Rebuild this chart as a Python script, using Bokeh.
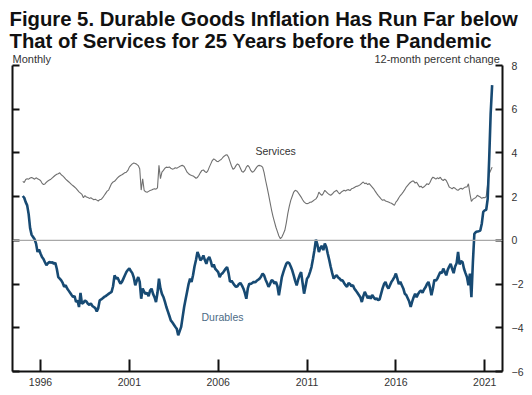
from bokeh.plotting import figure
from bokeh.models import Range1d, LinearAxis, FixedTicker, Span, Label, Title
from bokeh.embed import file_html
from bokeh.resources import INLINE

# ---- data (monthly, 12-month percent change), Jan 1995 .. Jun 2021 ----
start_year = 1995
services = [
    2.70, 2.65, 2.78, 2.82, 2.80, 2.85, 2.88, 2.84, 2.80, 2.86, 2.82, 2.78,  # 1995
    2.74, 2.62, 2.55, 2.58, 2.66, 2.72, 2.76, 2.80, 2.86, 2.92, 2.98, 3.02,  # 1996
    3.05, 3.09, 3.00, 2.95, 2.88, 2.80, 2.74, 2.68, 2.62, 2.55, 2.50, 2.44,  # 1997
    2.38, 2.30, 2.22, 2.16, 2.10, 1.95, 2.05, 1.98, 1.96, 1.92, 1.95, 1.90,  # 1998
    1.86, 1.88, 1.84, 1.80, 1.86, 1.88, 1.95, 2.05, 2.15, 2.25, 2.30, 2.45,  # 1999
    2.60, 2.67, 2.70, 2.78, 2.86, 2.92, 2.97, 3.00, 3.05, 3.10, 3.12, 3.20,  # 2000
    3.35, 3.43, 3.50, 3.54, 3.52, 3.48, 3.42, 3.28, 2.30, 2.82, 2.29, 2.22,  # 2001
    2.20, 2.24, 2.28, 2.30, 2.34, 2.36, 2.34, 2.40, 3.43, 2.82, 3.12, 3.20,  # 2002
    3.30, 3.35, 3.33, 3.36, 3.30, 3.26, 3.28, 3.32, 3.30, 3.34, 3.38, 3.42,  # 2003
    3.43, 3.38, 3.25, 3.12, 3.05, 3.00, 2.97, 2.95, 2.90, 2.84, 2.88, 2.98,  # 2004
    3.10, 3.20, 3.22, 3.15, 3.10, 3.18, 3.35, 3.50, 3.65, 3.73, 3.68, 3.62,  # 2005
    3.60, 3.66, 3.70, 3.78, 3.85, 3.90, 3.92, 3.80, 3.60, 3.40, 3.25, 3.30,  # 2006
    3.42, 3.50, 3.45, 3.30, 3.15, 3.12, 3.20, 3.35, 3.43, 3.35, 3.20, 3.12,  # 2007
    3.15, 3.25, 3.35, 3.42, 3.43, 3.40, 3.35, 3.10, 2.75, 2.44, 2.10, 1.75,  # 2008
    1.40, 1.10, 0.85, 0.60, 0.40, 0.20, 0.08, 0.15, 0.30, 0.46, 0.80, 1.22,  # 2009
    1.55, 1.83, 2.02, 2.21, 2.29, 2.26, 2.18, 2.08, 1.98, 1.86, 1.76, 1.70,  # 2010
    1.68, 1.70, 1.74, 1.75, 1.80, 1.85, 1.90, 2.00, 2.21, 2.12, 2.06, 2.15,  # 2011
    2.29, 2.22, 2.15, 2.10, 2.06, 2.12, 2.20, 2.25, 2.29, 2.20, 2.13, 2.20,  # 2012
    2.25, 2.29, 2.26, 2.30, 2.32, 2.28, 2.36, 2.38, 2.42, 2.46, 2.48, 2.51,  # 2013
    2.55, 2.62, 2.67, 2.59, 2.62, 2.55, 2.60, 2.52, 2.44, 2.36, 2.25, 2.15,  # 2014
    2.06, 1.98, 1.90, 1.83, 1.86, 1.80, 1.78, 1.75, 1.72, 1.70, 1.65, 1.60,  # 2015
    1.75, 1.83, 1.95, 2.05, 2.13, 2.22, 2.32, 2.44, 2.52, 2.60, 2.66, 2.71,  # 2016
    2.71, 2.62, 2.66, 2.55, 2.44, 2.48, 2.40, 2.45, 2.52, 2.59, 2.55, 2.65,  # 2017
    2.80, 2.89, 2.85, 2.80, 2.86, 2.82, 2.89, 2.78, 2.74, 2.80, 2.74, 2.60,  # 2018
    2.44, 2.40, 2.36, 2.42, 2.38, 2.32, 2.29, 2.35, 2.38, 2.34, 2.40, 2.44,  # 2019
    2.44, 2.59, 2.13, 1.78, 1.88, 1.92, 1.96, 2.06, 2.02, 1.98, 1.92, 1.96,  # 2020
    1.95, 2.00, 2.60, 3.05, 3.20, 3.35,                                      # 2021
]
durables = [
    2.03, 1.95, 1.75, 1.60, 1.20, 0.55, 0.25, 0.15, 0.05, -0.15, -0.53, -0.42,  # 1995
    -0.60, -0.76, -0.85, -1.00, -1.14, -1.05, -0.99, -1.02, -1.00, -1.07, -1.03, -1.30,  # 1996
    -1.68, -1.75, -1.83, -1.95, -2.13, -2.05, -2.20, -2.30, -2.40, -2.50, -2.59, -2.55,  # 1997
    -2.82, -2.75, -3.05, -2.40, -2.90, -2.85, -2.75, -2.80, -2.90, -2.95, -2.88, -3.00,  # 1998
    -3.05, -3.10, -3.25, -3.10, -2.74, -2.70, -2.65, -2.59, -2.55, -2.50, -2.45, -2.40,  # 1999
    -2.36, -2.10, -1.60, -1.75, -1.70, -1.85, -1.98, -1.90, -1.75, -1.60, -1.45, -1.35,  # 2000
    -1.29, -1.40, -1.50, -1.70, -2.06, -1.85, -1.68, -1.90, -2.67, -2.20, -2.35, -2.45,  # 2001
    -2.40, -2.55, -2.30, -2.21, -2.45, -2.60, -2.82, -2.40, -1.75, -2.20, -2.45, -2.59,  # 2002
    -2.80, -3.05, -3.25, -3.45, -3.66, -3.75, -3.85, -3.95, -4.04, -4.34, -4.15, -3.96,  # 2003
    -3.50, -3.05, -2.70, -2.35, -2.00, -1.75, -1.90, -1.60, -1.20, -0.90, -0.53, -0.70,  # 2004
    -0.91, -0.84, -0.69, -0.90, -1.07, -0.85, -0.76, -0.95, -1.22, -1.10, -1.30, -1.37,  # 2005
    -1.45, -1.68, -1.55, -1.50, -1.40, -1.30, -1.22, -1.50, -1.90, -1.85, -1.95, -2.05,  # 2006
    -2.13, -2.10, -2.00, -1.95, -2.06, -2.20, -2.40, -2.67, -2.20, -1.98, -2.00, -1.95,  # 2007
    -1.90, -1.92, -1.85, -1.80, -1.75, -1.65, -1.52, -1.60, -1.80, -1.95, -2.13, -2.00,  # 2008
    -1.83, -1.85, -1.98, -1.90, -2.10, -2.51, -2.10, -1.68, -1.45, -1.25, -1.07, -1.00,  # 2009
    -1.05, -1.20, -1.37, -1.60, -1.85, -2.06, -1.80, -1.60, -1.45, -1.95, -2.44, -2.10,  # 2010
    -1.75, -1.65, -1.45, -1.22, -0.85, -0.45, 0.03, -0.20, -0.53, -0.35, -0.25, -0.45,  # 2011
    -0.15, -0.30, -0.61, -0.90, -1.22, -1.50, -1.75, -1.65, -1.60, -1.70, -1.75, -1.83,  # 2012
    -1.83, -1.95, -2.05, -2.13, -1.95, -2.00, -2.10, -2.05, -2.21, -2.30, -2.40, -2.50,  # 2013
    -2.60, -2.82, -2.55, -2.36, -2.50, -2.65, -2.55, -2.67, -2.50, -2.60, -2.70, -2.65,  # 2014
    -2.74, -2.70, -2.45, -2.20, -2.00, -1.90, -2.10, -2.20, -2.05, -1.90, -1.80, -1.68,  # 2015
    -1.52, -1.75, -2.00, -1.90, -2.05, -2.20, -2.44, -2.50, -2.65, -2.80, -3.05, -2.80,  # 2016
    -2.60, -2.44, -2.60, -2.45, -2.35, -2.29, -2.40, -2.25, -2.15, -2.00, -1.90, -2.15,  # 2017
    -2.51, -2.20, -1.80, -1.85, -1.75, -1.60, -1.45, -1.50, -1.29, -1.45, -1.60, -1.35,  # 2018
    -1.20, -1.07, -1.30, -1.50, -1.20, -1.05, -0.53, -1.10, -0.95, -0.99, -1.30, -1.50,  # 2019
    -1.68, -2.06, -1.52, -2.60, -1.00, 0.30, 0.38, 0.40, 0.42, 0.45, 0.76, 1.30,  # 2020
    1.37, 1.40, 1.90, 3.70, 5.80, 7.10,  # 2021
]
x_ticks = [1996, 2001, 2006, 2011, 2016, 2021]
y_ticks = [-6, -4, -2, 0, 2, 4, 6, 8]

title_1 = "Figure 5. Durable Goods Inflation Has Run Far below"
title_2 = "That of Services for 25 Years before the Pandemic"

months_s = [start_year + i / 12 for i in range(len(services))]
months_d = [start_year + i / 12 for i in range(len(durables))]

FONT = "Liberation Sans"
X0, X1 = 1994.424, 2022.0
Y0, Y1 = -6, 8
PX_PER_UNIT = 306 / 14.0
BAND_PX = 13                      # small band above 8 for the unit notes
Y_TOP = Y1 + BAND_PX / PX_PER_UNIT

p = figure(frame_width=490, frame_height=306 + BAND_PX,
           x_range=Range1d(X0, X1), y_range=Range1d(Y0, Y_TOP),
           output_backend="svg", toolbar_location=None,
           min_border_left=12, min_border_right=0, min_border_top=52, min_border_bottom=0)
p.outline_line_color = None
p.grid.visible = False
p.background_fill_color = "white"
p.border_fill_color = "white"

# two-line heading, stacked above the frame (first added = nearest the frame)
p.add_layout(Title(text=title_2, align="left", offset=-3, standoff=1,
                   text_font=FONT, text_font_style="bold", text_font_size="20.3px",
                   text_color="#111111"), "above")
p.add_layout(Title(text=title_1, align="left", offset=-3, standoff=-4,
                   text_font=FONT, text_font_style="bold", text_font_size="20.3px",
                   text_color="#111111"), "above")

def style_axis(ax):
    ax.major_tick_out = 0
    ax.minor_tick_line_color = None
    ax.axis_line_width = 2
    ax.major_tick_line_width = 2
    ax.axis_line_color = "#111111"
    ax.major_tick_line_color = "#111111"
    ax.major_label_text_font = FONT
    ax.major_label_text_font_size = "10.5px"
    ax.major_label_text_color = "#333333"
    ax.axis_label = None
    ax.axis_label_standoff = 0

xa = p.xaxis[0]
style_axis(xa)
xa.ticker = FixedTicker(ticks=x_ticks)
xa.major_tick_in = 12
xa.major_label_standoff = 6

ya = p.yaxis[0]
style_axis(ya)
ya.ticker = FixedTicker(ticks=y_ticks)
ya.bounds = (Y0, Y1)
ya.major_tick_in = 7
ya.major_label_standoff = 0
ya.major_label_overrides = {t: "" for t in y_ticks}

ra = LinearAxis(ticker=FixedTicker(ticks=y_ticks), bounds=(Y0, Y1))
style_axis(ra)
ra.major_tick_in = 7
ra.major_label_standoff = 9
p.add_layout(ra, "right")

p.add_layout(Span(location=0, dimension="width", line_color="#a8a8a8", line_width=1.2))

p.line(months_s, services, line_color="#707070", line_width=1.1)
p.line(months_d, durables, line_color="#174a73", line_width=2.6)

p.add_layout(Label(x=2008.1, y=4.08, text="Services", text_baseline="middle",
                   text_font=FONT, text_font_size="10.5px", text_color="#333333"))
p.add_layout(Label(x=2005.06, y=-3.5, text="Durables", text_baseline="middle",
                   text_font=FONT, text_font_size="10.5px", text_color="#4d6b85"))

p.add_layout(Label(x=X0, y=Y1, x_offset=0, y_offset=7, text="Monthly",
                   text_font=FONT, text_font_size="11px", text_color="#333333",
                   text_baseline="middle"))
p.add_layout(Label(x=X1, y=Y1, x_offset=-2.7, y_offset=7,
                   text="12-month percent change", text_align="right",
                   text_font=FONT, text_font_size="11px", text_color="#333333",
                   text_baseline="middle"))

open("out.html", "w").write(file_html(p, INLINE))
